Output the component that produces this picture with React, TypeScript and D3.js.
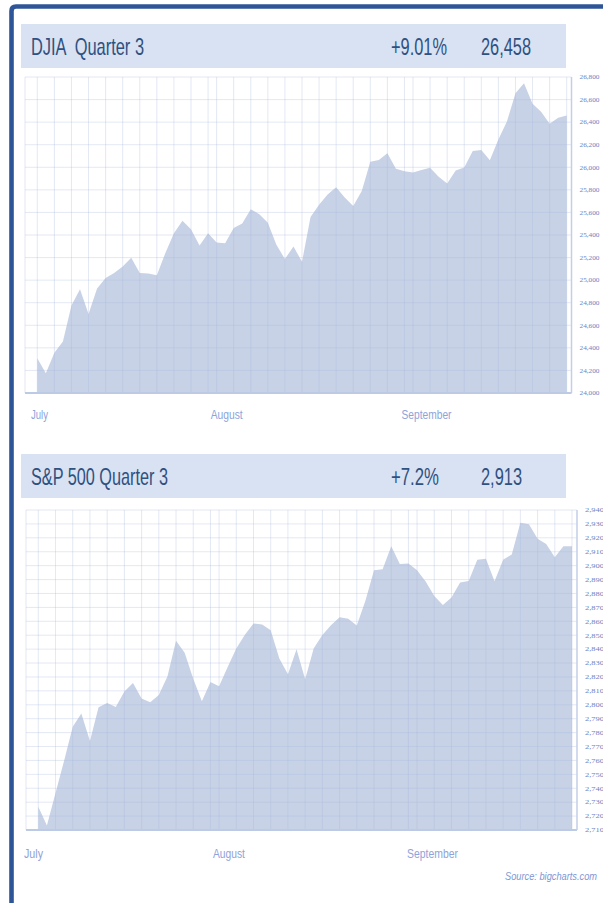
import React from 'react';
import * as d3 from 'd3';

// trading-day index of the first session of each month in Q3
const monthNames = ['July', 'August', 'September'];
const monthStarts = [0, 21, 44];
const dayCount = 63;

// DJIA daily closes, Q3
const djiaValues = [
  24307, 24174, 24357, 24456, 24776, 24920, 24700, 24925, 25019, 25064, 25120,
  25199, 25064, 25058, 25044, 25241, 25415, 25527, 25451, 25307, 25415,
  25333, 25327, 25463, 25502, 25629, 25584, 25509, 25313, 25187, 25299, 25162,
  25559, 25669, 25758, 25822, 25733, 25657, 25790, 26049, 26065, 26124, 25987, 25965,
  25953, 25975, 25996, 25917, 25857, 25971, 25999, 26145, 26154, 26062, 26247,
  26406, 26657, 26744, 26562, 26492, 26385, 26440, 26458,
];
const djiaTicks = [
  24000, 24200, 24400, 24600, 24800, 25000, 25200, 25400,
  25600, 25800, 26000, 26200, 26400, 26600, 26800,
];

// S&P 500 daily closes, Q3
const spxValues = [
  2726.7, 2713.2, 2736.6, 2759.8, 2784.2, 2793.8, 2774.0, 2798.3, 2801.3, 2798.4, 2809.6,
  2815.6, 2804.5, 2801.8, 2807.0, 2820.4, 2846.1, 2837.4, 2818.8, 2802.6, 2816.3,
  2813.4, 2827.2, 2840.4, 2850.4, 2858.5, 2857.7, 2853.6, 2833.3, 2821.9, 2840.0, 2818.4,
  2840.7, 2850.1, 2857.1, 2863.0, 2861.8, 2857.0, 2874.7, 2896.7, 2897.5, 2914.0, 2901.1, 2901.5,
  2896.7, 2888.6, 2878.1, 2871.7, 2877.1, 2887.9, 2888.9, 2904.2, 2905.0, 2888.8, 2904.3,
  2908.0, 2930.8, 2929.7, 2919.4, 2915.6, 2906.0, 2914.0, 2914.0,
];
const spxTicks = [
  2710, 2720, 2730, 2740, 2750, 2760, 2770, 2780, 2790, 2800, 2810, 2820,
  2830, 2840, 2850, 2860, 2870, 2880, 2890, 2900, 2910, 2920, 2930, 2940,
];

const headerFill = '#d9e2f3';
const headerInk = '#2f5180';
const areaFill = '#c7d2e6';
const gridInk = '#a9b9dc';
const monthInk = '#8ea3da';
const tickInk = '#6c82c2';
const narrow = '"Liberation Sans Narrow", "Arial Narrow", "Liberation Sans", Arial, sans-serif';

function Panel(props) {
  const { cfg, values, ticks } = props;
  const x = d3.scaleLinear().domain([0, dayCount - 1]).range(cfg.dataX);
  const y = d3.scaleLinear().domain([ticks[0], ticks[ticks.length - 1]]).range([cfg.bottom, cfg.top]);
  const area = d3.area<number>()
    .x((d, i) => x(i))
    .y0(cfg.bottom)
    .y1(d => y(d));

  // vertical grid: every other session, restarting at each month
  const vlines = [];
  monthStarts.forEach((s, k) => {
    const end = k < monthStarts.length - 1 ? monthStarts[k + 1] : dayCount;
    for (let i = s; i < end; i += 2) vlines.push(i);
  });

  return (
    <g>
      <rect x={21} y={cfg.headY} width={545} height={44} fill={headerFill} />
      <text x={31} y={cfg.headY + 31} fontFamily={narrow} fontSize={24} fill={headerInk}
        textLength={cfg.titleW} lengthAdjust="spacingAndGlyphs" style={{ whiteSpace: 'pre' }}>
        {cfg.title}
      </text>
      <text x={391} y={cfg.headY + 31} fontFamily={narrow} fontSize={24} fill={headerInk}
        textLength={cfg.pctW} lengthAdjust="spacingAndGlyphs">{cfg.pct}</text>
      <text x={481} y={cfg.headY + 31} fontFamily={narrow} fontSize={24} fill={headerInk}
        textLength={cfg.lastW} lengthAdjust="spacingAndGlyphs">{cfg.last}</text>

      <rect x={cfg.left} y={cfg.top} width={cfg.right - cfg.left} height={cfg.bottom - cfg.top} fill="#fff" />
      <path d={area(values)} fill={areaFill} />

      <g stroke={gridInk} strokeOpacity={0.32} strokeWidth={1}>
        {ticks.map(t => (
          <line key={'h' + t} x1={cfg.left} x2={cfg.right} y1={y(t)} y2={y(t)} />
        ))}
        <line x1={cfg.left} x2={cfg.left} y1={cfg.top} y2={cfg.bottom} />
        {vlines.map(i => (
          <line key={'v' + i} x1={x(i)} x2={x(i)} y1={cfg.top} y2={cfg.bottom} />
        ))}
      </g>
      <line x1={cfg.left} x2={cfg.right} y1={cfg.bottom} y2={cfg.bottom} stroke="#bccae6" strokeWidth={2} />
      <line x1={cfg.right} x2={cfg.right} y1={cfg.top} y2={cfg.bottom} stroke="#c3cfe9" strokeWidth={1.5} />

      {ticks.map(t => (
        <text key={'t' + t} x={cfg.right + 8} y={y(t)} dy="0.33em" fontFamily='"Liberation Serif", "DejaVu Serif", serif'
          fontSize={7} fill={tickInk} textLength={cfg.tickW} lengthAdjust="spacingAndGlyphs">
          {d3.format(',')(t)}
        </text>
      ))}

      {monthNames.map((m, k) => (
        <text key={m} x={x(monthStarts[k]) + cfg.labelDx[k]} y={cfg.labelY} fontFamily={narrow}
          fontSize={13.5} fill={monthInk} textLength={cfg.labelW[k]} lengthAdjust="spacingAndGlyphs">
          {m}
        </text>
      ))}
    </g>
  );
}

const djiaCfg = {
  title: 'DJIA  Quarter 3', pct: '+9.01%', last: '26,458',
  titleW: 113, pctW: 56, lastW: 50,
  headY: 24, left: 25, right: 571.5, top: 77, bottom: 393,
  dataX: [37.3, 566.7], tickW: 20, labelY: 419,
  labelDx: [-6.3, -5.9, -11.5], labelW: [17, 32, 50],
};

const spxCfg = {
  title: 'S&P 500 Quarter 3', pct: '+7.2%', last: '2,913',
  titleW: 137, pctW: 48, lastW: 41,
  headY: 454, left: 26, right: 577, top: 510, bottom: 830,
  dataX: [38.3, 572], tickW: 19, labelY: 858,
  labelDx: [-14.3, -6.1, -10.1], labelW: [19, 32, 51],
};

export default function App() {
  return (
    <svg width={603} height={903} style={{ position: 'absolute', left: 0, top: 0, background: '#fff' }}>
      <path d="M11.5,903 V11 Q11.5,6.5 16,6.5 H603" fill="none" stroke="#2e5597" strokeWidth={4.6} />
      <Panel cfg={djiaCfg} values={djiaValues} ticks={djiaTicks} />
      <Panel cfg={spxCfg} values={spxValues} ticks={spxTicks} />
      <text x={505} y={880} fontFamily={narrow} fontStyle="italic" fontSize={10} fill="#7f96d3"
        textLength={92} lengthAdjust="spacingAndGlyphs">
        Source: bigcharts.com
      </text>
    </svg>
  );
}
